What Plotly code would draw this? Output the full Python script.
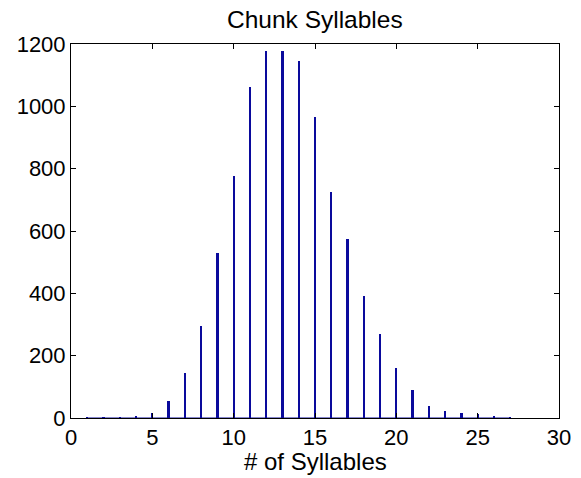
import plotly.graph_objects as go

syllables = list(range(1, 28))
counts = [3, 1, 2, 6, 17, 53, 145, 295, 530, 775, 1062, 1178, 1178, 1145, 965,
          725, 575, 390, 270, 160, 90, 38, 23, 17, 13, 4, 2]
x_ticks = [0, 5, 10, 15, 20, 25, 30]
y_ticks = [0, 200, 400, 600, 800, 1000, 1200]

blue = "#0a0a9c"
font = "Liberation Sans, Arial, sans-serif"

fig = go.Figure()
fig.add_trace(go.Bar(x=syllables, y=counts, width=0.14,
                     marker=dict(color=blue, line=dict(width=0)), showlegend=False))
fig.add_trace(go.Scatter(x=syllables, y=[0] * len(syllables), mode="lines",
                         line=dict(color=blue, width=1), showlegend=False, hoverinfo="skip"))

axis_common = dict(showgrid=False, zeroline=False, showline=True, linecolor="black",
                   linewidth=1, mirror="ticks", ticks="inside", ticklen=5,
                   tickcolor="black", automargin=False,
                   tickfont=dict(family=font, size=22, color="black"))

fig.update_layout(
    width=581, height=478,
    margin=dict(l=71, r=22, t=44, b=60),
    paper_bgcolor="white", plot_bgcolor="white",
    bargap=0,
    annotations=[
        dict(text="Chunk Syllables", xref="paper", yref="paper", x=0.5, y=1,
             xanchor="center", yanchor="middle", yshift=25, showarrow=False,
             font=dict(family=font, size=24.5, color="black")),
        dict(text="# of Syllables", xref="paper", yref="paper", x=0.5, y=0,
             xanchor="center", yanchor="middle", yshift=-43, showarrow=False,
             font=dict(family=font, size=24, color="black")),
    ],
)
fig.update_xaxes(range=[0, 30], tickvals=x_ticks, ticktext=[str(v) for v in x_ticks],
                 **axis_common)
fig.update_yaxes(range=[0, 1200], tickvals=y_ticks, ticktext=[str(v) for v in y_ticks],
                 **axis_common)

fig.write_html("out.html", config={"displayModeBar": False},
               post_script="document.body.style.margin='0';document.body.style.overflow='hidden';")
